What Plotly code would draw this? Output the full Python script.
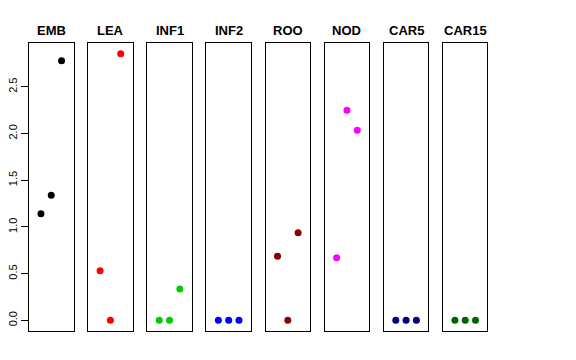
import plotly.graph_objects as go

panels = ["EMB", "LEA", "INF1", "INF2", "ROO", "NOD", "CAR5", "CAR15"]
colors = ["#000000", "#FF0000", "#00CD00", "#0000FF", "#8B0000", "#FF00FF", "#000080", "#006400"]
x_pos = [1, 2, 3]
values = {
    "EMB":   [1.14, 1.34, 2.78],
    "LEA":   [0.53, 0.0, 2.855],
    "INF1":  [0.0, 0.0, 0.335],
    "INF2":  [0.0, 0.0, 0.0],
    "ROO":   [0.685, 0.0, 0.938],
    "NOD":   [0.67, 2.25, 2.034],
    "CAR5":  [0.0, 0.0, 0.0],
    "CAR15": [0.0, 0.0, 0.0],
}
y_ticks = [0.0, 0.5, 1.0, 1.5, 2.0, 2.5]
y_tick_text = ["0.0", "0.5", "1.0", "1.5", "2.0", "2.5"]

W, H = 576, 360
OFF = 8.0  # page body margin
left0, pitch, pw = 29.0 - OFF, 59.14, 44.5
top, bottom = 43.0 - OFF, 331.0 - OFF
title_y = 30.0 - OFF

ymax = max(max(v) for v in values.values())
ext = ymax * 0.04
yr = [0 - ext, ymax + ext]
xr = [0 - 0.16, 4 + 0.16]

fig = go.Figure()
annotations = []
for i, name in enumerate(panels):
    n = i + 1
    xa = "x" if n == 1 else f"x{n}"
    ya = "y" if n == 1 else f"y{n}"
    fig.add_trace(go.Scatter(
        x=x_pos, y=values[name], mode="markers",
        marker=dict(color=colors[i], size=7, line=dict(width=0)),
        xaxis=xa, yaxis=ya, showlegend=False, hoverinfo="skip"))
    l = left0 + i * pitch
    dom_x = [l / W, (l + pw) / W]
    dom_y = [1 - bottom / H, 1 - top / H]
    xkey = "xaxis" if n == 1 else f"xaxis{n}"
    ykey = "yaxis" if n == 1 else f"yaxis{n}"
    fig.layout[xkey] = dict(domain=dom_x, range=xr, showgrid=False, zeroline=False,
                            showticklabels=False, ticks="", showline=True, mirror=True,
                            linecolor="black", linewidth=1, anchor=ya, fixedrange=True)
    yd = dict(domain=dom_y, range=yr, showgrid=False, zeroline=False,
              showline=True, mirror=True, linecolor="black", linewidth=1,
              anchor=xa, fixedrange=True)
    if n == 1:
        yd.update(tickmode="array", tickvals=y_ticks, ticktext=y_tick_text,
                  ticks="outside", ticklen=7, tickcolor="black", tickangle=-90,
                  tickfont=dict(family="Liberation Sans, Arial, sans-serif", size=11, color="black"))
    else:
        yd.update(showticklabels=False, ticks="")
    fig.layout[ykey] = yd
    annotations.append(dict(text=f"<b>{name}</b>", x=(l + pw / 2) / W, y=1 - title_y / H,
                            xref="paper", yref="paper", xanchor="center", yanchor="middle",
                            showarrow=False,
                            font=dict(family="Liberation Sans, Arial, sans-serif", size=13, color="black")))

fig.update_layout(width=W, height=H, margin=dict(l=0, r=0, t=0, b=0),
                  paper_bgcolor="white", plot_bgcolor="white", annotations=annotations)
fig.write_html("out.html")
